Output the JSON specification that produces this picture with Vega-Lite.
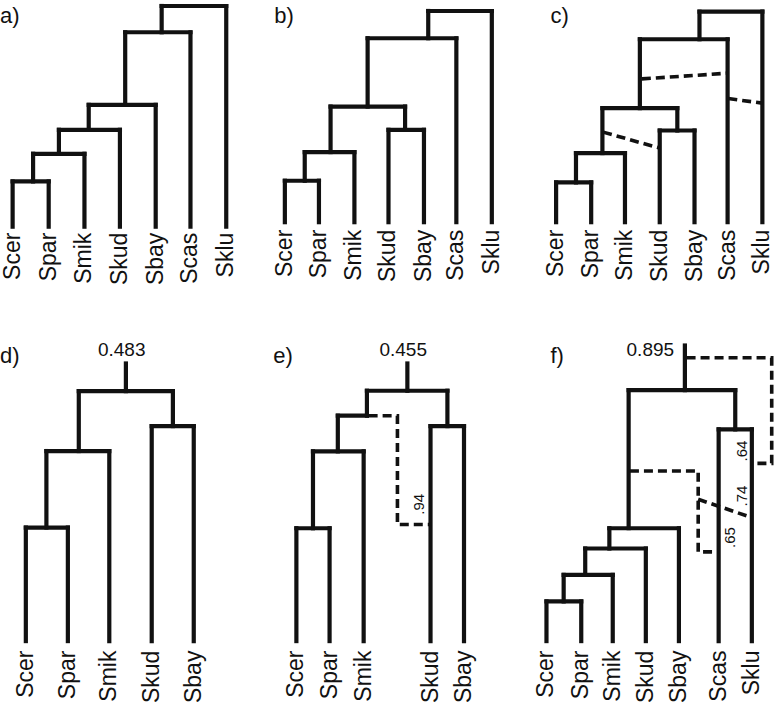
{
  "$schema": "https://vega.github.io/schema/vega-lite/v6.json",
  "autosize": {"type": "fit", "contains": "padding"},
  "width": 779,
  "height": 703,
  "padding": 0,
  "background": "white",
  "view": {"stroke": null},
  "config": {"font": "Liberation Sans"},
  "datasets": {
    "segs": [
      {"x": 162.7, "y": 6, "x2": 227.7, "y2": 6},
      {"x": 227.7, "y": 6, "x2": 227.7, "y2": 227},
      {"x": 162.7, "y": 6, "x2": 162.7, "y2": 32.3},
      {"x": 126, "y": 32.3, "x2": 191.7, "y2": 32.3},
      {"x": 191.7, "y": 32.3, "x2": 191.7, "y2": 227},
      {"x": 126, "y": 32.3, "x2": 126, "y2": 105},
      {"x": 89.3, "y": 105, "x2": 156.7, "y2": 105},
      {"x": 156.7, "y": 105, "x2": 156.7, "y2": 227},
      {"x": 89.3, "y": 105, "x2": 89.3, "y2": 130},
      {"x": 59.3, "y": 130, "x2": 120.7, "y2": 130},
      {"x": 120.7, "y": 130, "x2": 120.7, "y2": 227},
      {"x": 59.3, "y": 130, "x2": 59.3, "y2": 154},
      {"x": 33.3, "y": 154, "x2": 85, "y2": 154},
      {"x": 85, "y": 154, "x2": 85, "y2": 227},
      {"x": 33.3, "y": 154, "x2": 33.3, "y2": 181.7},
      {"x": 12.7, "y": 181.7, "x2": 49, "y2": 181.7},
      {"x": 12.7, "y": 181.7, "x2": 12.7, "y2": 227},
      {"x": 49, "y": 181.7, "x2": 49, "y2": 227},

      {"x": 431, "y": 11, "x2": 495, "y2": 11},
      {"x": 495, "y": 11, "x2": 495, "y2": 222.5},
      {"x": 431, "y": 11, "x2": 431, "y2": 38.3},
      {"x": 370, "y": 38.3, "x2": 459.3, "y2": 38.3},
      {"x": 459.3, "y": 38.3, "x2": 459.3, "y2": 222.5},
      {"x": 370, "y": 38.3, "x2": 370, "y2": 106.7},
      {"x": 332.7, "y": 106.7, "x2": 407.7, "y2": 106.7},
      {"x": 407.7, "y": 106.7, "x2": 407.7, "y2": 130},
      {"x": 391, "y": 130, "x2": 426.7, "y2": 130},
      {"x": 391, "y": 130, "x2": 391, "y2": 222.5},
      {"x": 426.7, "y": 130, "x2": 426.7, "y2": 222.5},
      {"x": 332.7, "y": 106.7, "x2": 332.7, "y2": 152.3},
      {"x": 306.7, "y": 152.3, "x2": 356.7, "y2": 152.3},
      {"x": 356.7, "y": 152.3, "x2": 356.7, "y2": 222.5},
      {"x": 306.7, "y": 152.3, "x2": 306.7, "y2": 181},
      {"x": 286.7, "y": 181, "x2": 321, "y2": 181},
      {"x": 286.7, "y": 181, "x2": 286.7, "y2": 222.5},
      {"x": 321, "y": 181, "x2": 321, "y2": 222.5},

      {"x": 704, "y": 11.7, "x2": 767.3, "y2": 11.7},
      {"x": 767.3, "y": 11.7, "x2": 767.3, "y2": 222.5},
      {"x": 704, "y": 11.7, "x2": 704, "y2": 39.3},
      {"x": 644, "y": 39.3, "x2": 732.3, "y2": 39.3},
      {"x": 732.3, "y": 39.3, "x2": 732.3, "y2": 222.5},
      {"x": 644, "y": 39.3, "x2": 644, "y2": 108.3},
      {"x": 606.3, "y": 108.3, "x2": 681.7, "y2": 108.3},
      {"x": 681.7, "y": 108.3, "x2": 681.7, "y2": 130.7},
      {"x": 664, "y": 130.7, "x2": 699, "y2": 130.7},
      {"x": 664, "y": 130.7, "x2": 664, "y2": 222.5},
      {"x": 699, "y": 130.7, "x2": 699, "y2": 222.5},
      {"x": 606.3, "y": 108.3, "x2": 606.3, "y2": 153.3},
      {"x": 579.7, "y": 153.3, "x2": 629, "y2": 153.3},
      {"x": 629, "y": 153.3, "x2": 629, "y2": 222.5},
      {"x": 579.7, "y": 153.3, "x2": 579.7, "y2": 182.7},
      {"x": 559.7, "y": 182.7, "x2": 595, "y2": 182.7},
      {"x": 559.7, "y": 182.7, "x2": 559.7, "y2": 222.5},
      {"x": 595, "y": 182.7, "x2": 595, "y2": 222.5},

      {"x": 126.7, "y": 364, "x2": 126.7, "y2": 391.7},
      {"x": 79.3, "y": 391.7, "x2": 174, "y2": 391.7},
      {"x": 174, "y": 391.7, "x2": 174, "y2": 426.7},
      {"x": 152.7, "y": 426.7, "x2": 195, "y2": 426.7},
      {"x": 152.7, "y": 426.7, "x2": 152.7, "y2": 642},
      {"x": 195, "y": 426.7, "x2": 195, "y2": 642},
      {"x": 79.3, "y": 391.7, "x2": 79.3, "y2": 451.7},
      {"x": 46.7, "y": 451.7, "x2": 110, "y2": 451.7},
      {"x": 110, "y": 451.7, "x2": 110, "y2": 642},
      {"x": 46.7, "y": 451.7, "x2": 46.7, "y2": 528.3},
      {"x": 26, "y": 528.3, "x2": 68.3, "y2": 528.3},
      {"x": 26, "y": 528.3, "x2": 26, "y2": 642},
      {"x": 68.3, "y": 528.3, "x2": 68.3, "y2": 642},

      {"x": 410, "y": 364, "x2": 410, "y2": 391.3},
      {"x": 369.3, "y": 391.3, "x2": 450.3, "y2": 391.3},
      {"x": 450.3, "y": 391.3, "x2": 450.3, "y2": 426.7},
      {"x": 433.3, "y": 426.7, "x2": 467, "y2": 426.7},
      {"x": 433.3, "y": 426.7, "x2": 433.3, "y2": 642},
      {"x": 467, "y": 426.7, "x2": 467, "y2": 642},
      {"x": 369.3, "y": 391.3, "x2": 369.3, "y2": 416.3},
      {"x": 340, "y": 416.3, "x2": 369.3, "y2": 416.3},
      {"x": 340, "y": 416.3, "x2": 340, "y2": 452},
      {"x": 315, "y": 452, "x2": 366, "y2": 452},
      {"x": 366, "y": 452, "x2": 366, "y2": 642},
      {"x": 315, "y": 452, "x2": 315, "y2": 529},
      {"x": 298.3, "y": 529, "x2": 331.7, "y2": 529},
      {"x": 298.3, "y": 529, "x2": 298.3, "y2": 642},
      {"x": 331.7, "y": 529, "x2": 331.7, "y2": 642},

      {"x": 689.3, "y": 346, "x2": 689.3, "y2": 390.7},
      {"x": 632.7, "y": 390.7, "x2": 740, "y2": 390.7},
      {"x": 740, "y": 390.7, "x2": 740, "y2": 430},
      {"x": 723.3, "y": 430, "x2": 756.7, "y2": 430},
      {"x": 723.3, "y": 430, "x2": 723.3, "y2": 642},
      {"x": 756.7, "y": 430, "x2": 756.7, "y2": 642},
      {"x": 632.7, "y": 390.7, "x2": 632.7, "y2": 529},
      {"x": 613.3, "y": 529, "x2": 683.3, "y2": 529},
      {"x": 683.3, "y": 529, "x2": 683.3, "y2": 642},
      {"x": 613.3, "y": 529, "x2": 613.3, "y2": 549.3},
      {"x": 589, "y": 549.3, "x2": 650, "y2": 549.3},
      {"x": 650, "y": 549.3, "x2": 650, "y2": 642},
      {"x": 589, "y": 549.3, "x2": 589, "y2": 575.7},
      {"x": 567.3, "y": 575.7, "x2": 616.7, "y2": 575.7},
      {"x": 616.7, "y": 575.7, "x2": 616.7, "y2": 642},
      {"x": 567.3, "y": 575.7, "x2": 567.3, "y2": 602.3},
      {"x": 550, "y": 602.3, "x2": 585, "y2": 602.3},
      {"x": 550, "y": 602.3, "x2": 550, "y2": 642},
      {"x": 585, "y": 602.3, "x2": 585, "y2": 642}
    ],
    "dash": [
      {"path": "c1", "ord": 0, "x": 646, "y": 79},
      {"path": "c1", "ord": 1, "x": 732.3, "y": 73.3},
      {"path": "c2", "ord": 0, "x": 733, "y": 98.7},
      {"path": "c2", "ord": 1, "x": 767.3, "y": 103.3},
      {"path": "c3", "ord": 0, "x": 607, "y": 132.3},
      {"path": "c3", "ord": 1, "x": 664, "y": 148.3},
      {"path": "e1", "ord": 0, "x": 371, "y": 416.3},
      {"path": "e1", "ord": 1, "x": 400, "y": 416.3},
      {"path": "e1", "ord": 2, "x": 400, "y": 525.3},
      {"path": "e1", "ord": 3, "x": 433.3, "y": 525.3},
      {"path": "f1", "ord": 0, "x": 691, "y": 358.3},
      {"path": "f1", "ord": 1, "x": 776.7, "y": 358.3},
      {"path": "f1", "ord": 2, "x": 776.7, "y": 464},
      {"path": "f1", "ord": 3, "x": 756.7, "y": 464},
      {"path": "f2", "ord": 0, "x": 634, "y": 471.7},
      {"path": "f2", "ord": 1, "x": 702.7, "y": 471.7},
      {"path": "f2", "ord": 2, "x": 702.7, "y": 552.7},
      {"path": "f2", "ord": 3, "x": 723.3, "y": 552.7},
      {"path": "f3", "ord": 0, "x": 702.7, "y": 500},
      {"path": "f3", "ord": 1, "x": 756.7, "y": 518.3}
    ],
    "leaves": [
      {"x": 12.7, "y": 233, "label": "Scer"},
      {"x": 49, "y": 233, "label": "Spar"},
      {"x": 85, "y": 233, "label": "Smik"},
      {"x": 120.7, "y": 233, "label": "Skud"},
      {"x": 156.7, "y": 233, "label": "Sbay"},
      {"x": 191.7, "y": 233, "label": "Scas"},
      {"x": 227.7, "y": 233, "label": "Sklu"},
      {"x": 286.7, "y": 230, "label": "Scer"},
      {"x": 321, "y": 230, "label": "Spar"},
      {"x": 356.7, "y": 230, "label": "Smik"},
      {"x": 391, "y": 230, "label": "Skud"},
      {"x": 426.7, "y": 230, "label": "Sbay"},
      {"x": 459.3, "y": 230, "label": "Scas"},
      {"x": 495, "y": 230, "label": "Sklu"},
      {"x": 559.7, "y": 230, "label": "Scer"},
      {"x": 595, "y": 230, "label": "Spar"},
      {"x": 629, "y": 230, "label": "Smik"},
      {"x": 664, "y": 230, "label": "Skud"},
      {"x": 699, "y": 230, "label": "Sbay"},
      {"x": 732.3, "y": 230, "label": "Scas"},
      {"x": 767.3, "y": 230, "label": "Sklu"},
      {"x": 26, "y": 651.5, "label": "Scer"},
      {"x": 68.3, "y": 651.5, "label": "Spar"},
      {"x": 110, "y": 651.5, "label": "Smik"},
      {"x": 152.7, "y": 651.5, "label": "Skud"},
      {"x": 195, "y": 651.5, "label": "Sbay"},
      {"x": 298.3, "y": 651.5, "label": "Scer"},
      {"x": 331.7, "y": 651.5, "label": "Spar"},
      {"x": 366, "y": 651.5, "label": "Smik"},
      {"x": 433.3, "y": 651.5, "label": "Skud"},
      {"x": 467, "y": 651.5, "label": "Sbay"},
      {"x": 550, "y": 651.5, "label": "Scer"},
      {"x": 585, "y": 651.5, "label": "Spar"},
      {"x": 616.7, "y": 651.5, "label": "Smik"},
      {"x": 650, "y": 651.5, "label": "Skud"},
      {"x": 683.3, "y": 651.5, "label": "Sbay"},
      {"x": 723.3, "y": 651.5, "label": "Scas"},
      {"x": 756.7, "y": 651.5, "label": "Sklu"}
    ],
    "panels": [
      {"x": 0, "y": 23, "label": "a)"},
      {"x": 276, "y": 23, "label": "b)"},
      {"x": 554, "y": 23, "label": "c)"},
      {"x": 0, "y": 364, "label": "d)"},
      {"x": 275, "y": 364, "label": "e)"},
      {"x": 554, "y": 364, "label": "f)"}
    ],
    "vals": [
      {"x": 122.5, "y": 356.5, "label": "0.483"},
      {"x": 405.8, "y": 356.5, "label": "0.455"},
      {"x": 654.5, "y": 356.5, "label": "0.895"}
    ],
    "support": [
      {"x": 421.7, "y": 505, "label": ".94"},
      {"x": 746.7, "y": 451.7, "label": ".64"},
      {"x": 746.7, "y": 496.7, "label": ".74"},
      {"x": 735, "y": 538.3, "label": ".65"}
    ]
  },
  "layer": [
    {
      "data": {"name": "segs"},
      "mark": {"type": "rule", "strokeWidth": 4.2, "strokeCap": "square", "color": "#111111"},
      "encoding": {
        "x": {"field": "x", "type": "quantitative", "scale": {"domain": [0, 779], "nice": false, "zero": false}, "axis": null},
        "y": {"field": "y", "type": "quantitative", "scale": {"domain": [0, 703], "nice": false, "zero": false, "reverse": true}, "axis": null},
        "x2": {"field": "x2"},
        "y2": {"field": "y2"}
      }
    },
    {
      "data": {"name": "dash"},
      "mark": {"type": "line", "strokeWidth": 3.6, "strokeDash": [9, 5], "strokeCap": "butt", "color": "#111111"},
      "encoding": {
        "x": {"field": "x", "type": "quantitative", "scale": {"domain": [0, 779], "nice": false, "zero": false}, "axis": null},
        "y": {"field": "y", "type": "quantitative", "scale": {"domain": [0, 703], "nice": false, "zero": false, "reverse": true}, "axis": null},
        "detail": {"field": "path"},
        "order": {"field": "ord", "type": "quantitative"}
      }
    },
    {
      "data": {"name": "leaves"},
      "mark": {"type": "text", "angle": 270, "align": "right", "baseline": "middle", "fontSize": 23, "color": "#111111"},
      "encoding": {
        "x": {"field": "x", "type": "quantitative", "scale": {"domain": [0, 779], "nice": false, "zero": false}, "axis": null},
        "y": {"field": "y", "type": "quantitative", "scale": {"domain": [0, 703], "nice": false, "zero": false, "reverse": true}, "axis": null},
        "text": {"field": "label"}
      }
    },
    {
      "data": {"name": "panels"},
      "mark": {"type": "text", "align": "left", "baseline": "alphabetic", "fontSize": 22, "color": "#111111"},
      "encoding": {
        "x": {"field": "x", "type": "quantitative", "scale": {"domain": [0, 779], "nice": false, "zero": false}, "axis": null},
        "y": {"field": "y", "type": "quantitative", "scale": {"domain": [0, 703], "nice": false, "zero": false, "reverse": true}, "axis": null},
        "text": {"field": "label"}
      }
    },
    {
      "data": {"name": "vals"},
      "mark": {"type": "text", "align": "center", "baseline": "alphabetic", "fontSize": 19, "color": "#111111"},
      "encoding": {
        "x": {"field": "x", "type": "quantitative", "scale": {"domain": [0, 779], "nice": false, "zero": false}, "axis": null},
        "y": {"field": "y", "type": "quantitative", "scale": {"domain": [0, 703], "nice": false, "zero": false, "reverse": true}, "axis": null},
        "text": {"field": "label"}
      }
    },
    {
      "data": {"name": "support"},
      "mark": {"type": "text", "angle": 270, "align": "center", "baseline": "middle", "fontSize": 15, "color": "#111111"},
      "encoding": {
        "x": {"field": "x", "type": "quantitative", "scale": {"domain": [0, 779], "nice": false, "zero": false}, "axis": null},
        "y": {"field": "y", "type": "quantitative", "scale": {"domain": [0, 703], "nice": false, "zero": false, "reverse": true}, "axis": null},
        "text": {"field": "label"}
      }
    }
  ]
}
